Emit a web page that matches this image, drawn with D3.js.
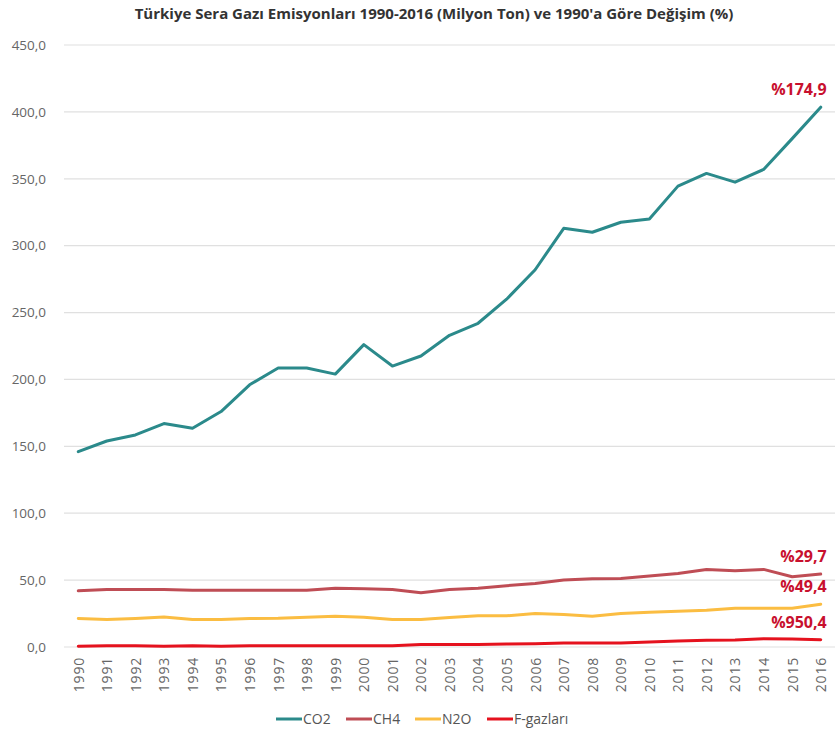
<!doctype html>
<html>
<head>
<meta charset="utf-8">
<script src="https://d3js.org/d3.v7.min.js"></script>
<style>
  body { margin: 0; background: #fff; }
  text { font-family: 'Open Sans', sans-serif; }
  .title { font-size: 15px; font-weight: 700; fill: #333; text-anchor: middle; }
  .axis text { font-size: 13.5px; fill: #666; }
  .axis.x text { font-size: 14px; letter-spacing: 0.8px; }
  .axis path, .axis line { display: none; }
  .grid line { stroke: #e0e0e0; stroke-width: 1.2; }
  .note { font-size: 16px; font-weight: 700; fill: #c8102e; text-anchor: end; }
  .legend text { font-size: 14px; fill: #555; }
</style>
</head>
<body>
<svg id="chart" width="839" height="734"></svg>
<script>
// years and series (Milyon Ton)
var years = d3.range(1990, 2017);
var co2 = [146, 154, 158.5, 167, 163.5, 176, 196, 208.5, 208.5, 204, 226, 210, 217.5, 233, 242, 260, 282, 313, 310, 317.5, 320, 344.5, 354, 347.5, 357, 380, 403.5];
var ch4 = [42, 43, 43, 43, 42.5, 42.5, 42.5, 42.5, 42.5, 44, 43.5, 43, 40.5, 43, 44, 45.8, 47.5, 50, 51, 51.2, 53, 55, 58, 57, 58, 52.5, 54.5];
var n2o = [21.3, 20.5, 21.3, 22.5, 20.5, 20.5, 21.3, 21.5, 22.3, 23, 22.3, 20.5, 20.5, 22, 23.3, 23.3, 25, 24.3, 23, 25, 26, 26.8, 27.5, 29, 29, 29, 32];
var fgas = [0.6, 1, 1, 0.5, 1, 0.5, 1, 1, 1, 1, 1, 1, 1.8, 1.8, 1.8, 2.3, 2.5, 3, 3, 3, 3.8, 4.5, 5, 5.3, 6.2, 6, 5.5];
var seriesNames = ["CO2", "CH4", "N2O", "F-gazları"];
var seriesColors = ["#2b8a8b", "#bf4d55", "#fbbd42", "#e5121e"];
var changeLabels = ["%174,9", "%29,7", "%49,4", "%950,4"];
var yTicks = [0, 50, 100, 150, 200, 250, 300, 350, 400, 450];

var allSeries = [co2, ch4, n2o, fgas];

var width = 839, height = 734;
var margin = {top: 45, right: 4, bottom: 87, left: 64};

var svg = d3.select("#chart");

var locale = d3.formatLocale({decimal: ",", thousands: ".", grouping: [3], currency: ["", "TL"]});
var fmt = locale.format(".1f");

var x = d3.scalePoint()
  .domain(years)
  .range([margin.left, width - margin.right])
  .padding(0.5);

var y = d3.scaleLinear()
  .domain([0, 450])
  .range([height - margin.bottom, margin.top]);

// title
svg.append("text")
  .attr("class", "title")
  .attr("x", 434)
  .attr("y", 19)
  .text("Türkiye Sera Gazı Emisyonları 1990-2016 (Milyon Ton) ve 1990'a Göre Değişim (%)");

// gridlines
svg.append("g")
  .attr("class", "grid")
  .selectAll("line")
  .data(yTicks)
  .join("line")
  .attr("x1", margin.left)
  .attr("x2", width - margin.right)
  .attr("y1", d => y(d))
  .attr("y2", d => y(d));

// y axis
svg.append("g")
  .attr("class", "axis")
  .attr("transform", "translate(" + (margin.left - 18) + ",0)")
  .call(d3.axisLeft(y).tickValues(yTicks).tickFormat(fmt).tickSize(0).tickPadding(0));

// x axis
var xAxis = svg.append("g")
  .attr("class", "axis x")
  .attr("transform", "translate(0," + (height - margin.bottom) + ")")
  .call(d3.axisBottom(x).tickSize(0));
xAxis.selectAll("text")
  .attr("transform", "rotate(-90)")
  .attr("x", -10)
  .attr("y", 0)
  .attr("dy", "0.35em")
  .style("text-anchor", "end");

// lines
var line = d3.line()
  .x((d, i) => x(years[i]))
  .y(d => y(d));

svg.append("g")
  .selectAll("path")
  .data(allSeries)
  .join("path")
  .attr("d", d => line(d))
  .attr("fill", "none")
  .attr("stroke", (d, i) => seriesColors[i])
  .attr("stroke-width", 3)
  .attr("stroke-linejoin", "round")
  .attr("stroke-linecap", "round");

// change labels at the end of each line
svg.append("g")
  .selectAll("text")
  .data(allSeries)
  .join("text")
  .attr("class", "note")
  .attr("x", x(2016) + 6)
  .attr("y", d => y(d[d.length - 1]) - 12)
  .text((d, i) => changeLabels[i]);

// legend
var legendX = [276, 346, 415, 487];
var legend = svg.append("g")
  .attr("class", "legend")
  .selectAll("g")
  .data(seriesNames)
  .join("g")
  .attr("transform", (d, i) => "translate(" + legendX[i] + ",719)");
legend.append("line")
  .attr("x1", 0).attr("x2", 26)
  .attr("stroke", (d, i) => seriesColors[i])
  .attr("stroke-width", 3);
legend.append("text")
  .attr("x", 27)
  .attr("dy", "0.35em")
  .text(d => d);
</script>
</body>
</html>
